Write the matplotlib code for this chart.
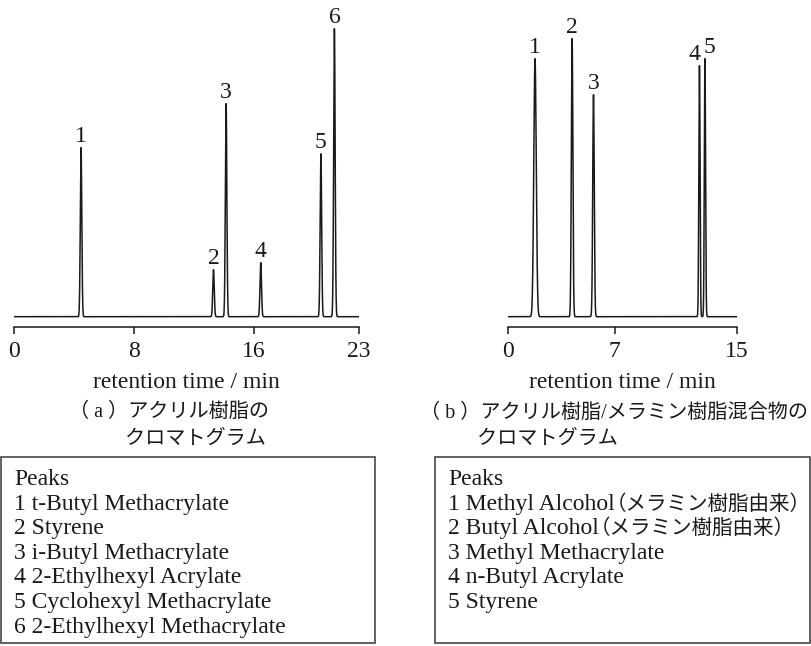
import numpy as np
import matplotlib
matplotlib.use("Agg")
import matplotlib.pyplot as plt
from matplotlib.patches import Rectangle

plt.rcParams['font.family'] = ['Liberation Serif', 'Noto Sans CJK JP']
INK = "#1a1a1a"
FS = 17      # latin text
FS_JP = 14.5  # japanese text

# (a) acrylic resin
rt_a = [4.47, 13.3, 14.14, 16.45, 20.46, 21.36]      # retention time, min
height_a = [169, 47, 213, 54, 163, 288]               # detector response (arb.)
width_a = [0.05, 0.05, 0.05, 0.05, 0.05, 0.05]
ticks_a = [0, 8, 16, 23]
peaks_a = ["Peaks", "1 t-Butyl Methacrylate", "2 Styrene", "3 i-Butyl Methacrylate",
           "4 2-Ethylhexyl Acrylate", "5 Cyclohexyl Methacrylate", "6 2-Ethylhexyl Methacrylate"]

# (b) acrylic / melamine resin mixture
rt_b = [1.77, 4.2, 5.6, 12.54, 12.9]
height_b = [258, 278, 222, 251, 258]
width_b = [0.08, 0.05, 0.05, 0.04, 0.04]
ticks_b = [0, 7, 15]
peaks_b = ["Peaks", "1 Methyl Alcohol", "2 Butyl Alcohol",
           "3 Methyl Methacrylate", "4 n-Butyl Acrylate", "5 Styrene"]
notes_b = ["", "（メラミン樹脂由来）", "（メラミン樹脂由来）", "", "", ""]

W, H = 812, 646
fig = plt.figure(figsize=(W / 100, H / 100), dpi=100)
renderer = fig.canvas.get_renderer()


def fx(px):
    return px / W


def fy(py):
    return 1 - py / H


def chromatogram(left_px, right_px, rt, heights, widths, ticks, label_dx):
    ax = fig.add_axes([fx(left_px), fy(326.7), fx(right_px - left_px), 326.7 / H])
    t = np.linspace(ticks[0], ticks[-1], 6000)
    y = np.zeros_like(t)
    for r, h, w in zip(rt, heights, widths):
        y += h * np.exp(-0.5 * ((t - r) / w) ** 2)
    ax.plot(t, y, color=INK, lw=1.1)
    for i, (r, h) in enumerate(zip(rt, heights)):
        ax.text(r + label_dx[i], h + 6, str(i + 1), ha='center', va='baseline',
                fontsize=FS, color=INK)
    ax.set_xlim(ticks[0], ticks[-1])
    ax.set_ylim(-10, 316.7)
    ax.set_xticks(ticks)
    ax.set_xticklabels([str(v) for v in ticks])
    ax.set_yticks([])
    for s in ['top', 'left', 'right']:
        ax.spines[s].set_visible(False)
    ax.spines['bottom'].set_linewidth(1.1)
    ax.spines['bottom'].set_color(INK)
    ax.tick_params(axis='x', direction='out', length=5, width=1.1, colors=INK,
                   labelsize=FS, pad=5)
    ax.set_xlabel("retention time / min", fontsize=FS, color=INK, labelpad=7.5)
    ax.patch.set_visible(False)
    return ax


chromatogram(14, 359, rt_a, height_a, width_a, ticks_a, [0, 0, 0, 0, 0, 0])
chromatogram(508, 737, rt_b, height_b, width_b, ticks_b, [0, 0, 0, -0.3, 0.3])

# captions
fig.text(fx(69), fy(412), "（ a ）アクリル樹脂の", fontsize=FS_JP, va='center', color=INK)
fig.text(fx(125), fy(439), "クロマトグラム", fontsize=FS_JP, va='center', color=INK)
fig.text(fx(420), fy(413), "（ b ）アクリル樹脂/メラミン樹脂混合物の", fontsize=FS_JP, va='center', color=INK)
fig.text(fx(477), fy(439), "クロマトグラム", fontsize=FS_JP, va='center', color=INK)

# peak legend boxes
for x0, x1, lines, notes in [(1, 375, peaks_a, [""] * len(peaks_a)),
                             (435, 810, peaks_b, notes_b)]:
    fig.add_artist(Rectangle((fx(x0), fy(643)), fx(x1 - x0), (643 - 457) / H,
                             transform=fig.transFigure, fill=False,
                             edgecolor="#555555", lw=1.3))
    for i, (s, note) in enumerate(zip(lines, notes)):
        txt = fig.text(fx(x0 + 13), fy(485 + 24.6 * i), s, fontsize=FS, va='baseline', color=INK)
        if note:
            x_end = txt.get_window_extent(renderer).x1
            fig.text(fx(x_end - 9), fy(485 + 24.6 * i), note, fontsize=14.8,
                     va='baseline', color=INK)

fig.savefig("out.png", dpi=100)
